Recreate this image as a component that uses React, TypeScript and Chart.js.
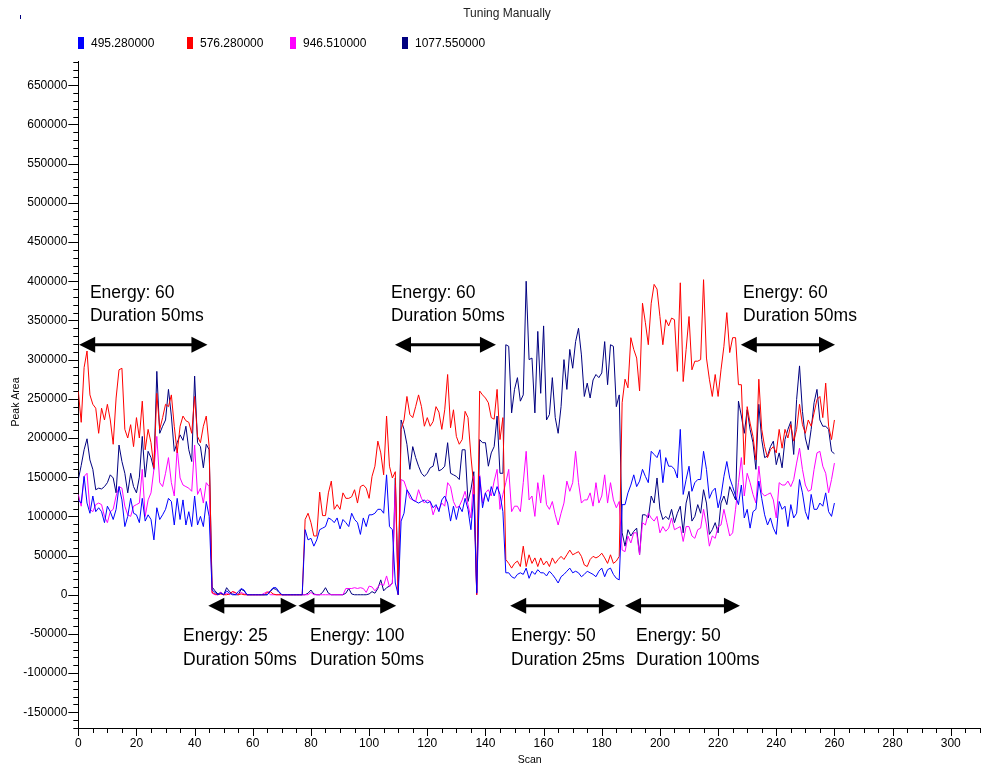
import { useEffect, useRef } from "react";
import { Chart, registerables } from "chart.js";

Chart.register(...registerables);

const TITLE = "Tuning Manually";
const X_TITLE = "Scan";
const Y_TITLE = "Peak Area";
const SERIES_LABELS = ["495.280000", "576.280000", "946.510000", "1077.550000"];
const SERIES_COLORS = ["#0000FF", "#FF0000", "#FF00FF", "#000080"];

const X_TICKS = [0, 20, 40, 60, 80, 100, 120, 140, 160, 180, 200, 220, 240, 260, 280, 300];
const Y_TICKS = [
  -150000, -100000, -50000, 0, 50000, 100000, 150000, 200000, 250000, 300000,
  350000, 400000, 450000, 500000, 550000, 600000, 650000,
];

// Peak area in thousands, one value per scan (scan 0 .. 260)
const peak495 = [
  121,117,151,117,104,126,106,111,106,92,113,106,96,109,138,121,87,100,123,104,102,92,123,94,102,96,70,111,96,102,109,123,119,89,123,96,121,89,106,87,126,89,100,87,119,100,
  6,3,0,2,0,5,2,0,0,4,8,6,0,0,0,0,0,0,0,0,5,9,9,4,0,0,0,0,0,0,0,0,
  83,70,72,62,70,83,85,87,98,96,92,98,84,96,92,87,104,96,92,77,98,87,102,102,104,109,109,104,153,87,83,15,
  0,
  94,104,134,128,121,119,117,119,121,117,119,111,115,106,121,126,117,94,113,96,113,106,123,109,83,128,
  2,
  151,111,130,119,138,126,138,128,106,
  28,28,23,21,26,28,26,34,21,30,26,32,28,28,24,30,26,21,15,23,26,30,34,28,30,28,23,26,30,28,26,23,30,34,23,32,34,26,21,19,
  115,115,130,140,153,138,145,160,151,143,183,179,175,185,143,175,164,164,160,149,211,128,147,164,132,143,147,147,183,160,123,132,136,111,126,151,170,149,138,126,115,140,
  98,109,85,106,109,145,123,102,89,98,85,77,119,109,113,87,115,98,104,147,130,106,96,128,109,109,117,113,130,106,100,117,
];

const peak576 = [
  260,220,290,311,255,243,238,206,238,223,243,223,192,251,287,289,211,200,217,189,226,200,247,185,211,194,162,257,211,226,243,240,255,215,181,215,228,222,220,206,253,202,194,215,228,189,
  3,1,0,1,0,0,1,4,3,0,1,0,0,0,0,0,0,0,0,3,4,1,0,0,0,0,0,0,0,0,0,0,
  96,104,92,75,75,131,101,101,130,145,109,115,109,130,123,123,125,134,117,138,140,136,123,151,164,196,181,153,228,164,149,157,
  0,
  211,223,253,230,226,240,255,240,215,226,215,221,240,233,211,236,281,213,236,202,192,198,234,226,177,138,
  0,
  260,255,251,245,226,224,262,198,226,
  45,40,34,40,43,36,62,36,51,40,47,36,47,38,43,36,47,40,45,49,45,51,57,51,53,55,49,38,36,45,49,47,49,53,47,40,51,40,43,49,
  245,275,264,328,313,302,260,372,347,319,372,396,390,355,319,351,343,353,351,285,398,272,313,355,287,298,298,300,402,302,275,253,281,253,287,317,360,309,328,328,268,268,
  166,240,219,202,172,275,211,189,175,185,189,181,211,187,211,200,217,196,211,243,217,206,223,215,232,249,253,226,270,215,198,223,
];

const peak946 = [
  128,113,151,155,109,106,115,117,115,100,92,106,109,126,138,136,113,102,100,113,115,117,160,100,121,130,160,202,143,138,155,175,143,126,187,149,140,138,136,132,191,128,136,117,143,138,
  2,0,0,3,0,2,0,4,2,0,3,1,0,0,0,0,0,0,2,4,0,0,0,0,0,0,0,0,0,0,0,0,
  0,0,3,0,0,0,0,0,0,0,0,0,0,0,8,8,8,9,8,9,8,3,11,10,5,10,14,12,24,10,15,140,
  0,
  147,145,134,123,121,119,134,123,117,121,119,102,113,109,117,113,143,138,119,111,113,121,132,115,98,151,
  0,
  153,117,130,134,126,145,160,109,128,
  143,160,106,113,113,106,143,183,121,126,100,143,117,153,115,109,119,102,89,104,117,145,132,143,183,143,117,121,121,130,113,143,117,126,153,117,143,121,111,119,
  57,55,75,66,79,79,51,92,89,104,98,94,100,79,87,81,85,98,83,85,87,68,87,87,75,72,83,85,109,89,62,75,72,87,89,109,92,75,79,109,143,175,
  126,155,143,128,117,164,130,126,128,130,121,98,143,140,140,145,138,147,168,187,160,140,132,134,160,181,183,164,155,130,147,168,
];

const peak1077 = [
  147,165,185,199,172,160,134,136,135,138,143,153,149,130,191,170,155,130,155,138,130,150,202,150,183,175,160,285,206,215,223,262,228,183,194,204,197,215,185,170,279,194,189,162,192,185,
  10,5,1,3,0,9,4,1,0,0,7,5,0,0,0,0,0,0,0,0,4,8,7,3,0,0,0,0,0,0,0,0,
  0,2,6,1,0,0,3,9,2,0,0,0,0,0,2,8,1,0,0,0,0,0,1,4,2,8,19,5,9,11,15,149,
  6,
  223,211,192,160,189,175,164,155,151,155,162,164,181,158,160,164,194,155,153,151,147,185,185,119,134,157,
  3,
  198,194,194,164,181,189,228,155,155,
  319,317,232,262,277,247,255,400,300,302,232,336,257,343,223,230,277,226,206,240,300,262,313,289,323,340,306,253,270,251,274,281,277,283,323,268,319,317,240,255,
  79,62,83,75,81,85,51,102,102,98,126,117,149,109,96,100,96,109,92,104,113,79,117,132,94,100,115,104,134,117,77,83,92,79,117,126,115,138,130,121,247,228,
  206,236,211,194,160,243,198,175,177,189,196,166,181,162,198,211,221,179,249,292,234,200,185,211,245,262,223,215,215,211,183,180,
];

const SERIES_VALUES = [peak495, peak576, peak946, peak1077];
const scans = peak495.map((_, i) => i);

// Annotations (scan / peak area units)
const annoStart = [0.3, 44.7, 75.7, 108.9, 148.5, 188, 227.8];
const annoEnd = [44.4, 75.1, 109.3, 143.6, 184.5, 227.5, 260.2];
const annoArrowY = [319000, -14000, -14000, 319000, -14000, -14000, 319000];
const annoTextX = [4, 36, 79.7, 107.5, 148.8, 191.8, 228.6];
const annoLine1 = ["Energy: 60", "Energy: 25", "Energy: 100", "Energy: 60", "Energy: 50", "Energy: 50", "Energy: 60"];
const annoLine2 = ["Duration 50ms", "Duration 50ms", "Duration 50ms", "Duration 50ms", "Duration 25ms", "Duration 100ms", "Duration 50ms"];
const upperTextY = [385000, 355000];
const lowerTextY = [-53000, -84000];

const FONT = "'Liberation Sans', Arial, sans-serif";

const decorPlugin = {
  id: "decor",
  afterDatasetsDraw(chart: any) {
    const ctx = chart.ctx;
    const xs = chart.scales.x;
    const ys = chart.scales.y;
    ctx.save();
    ctx.fillStyle = "#000";
    ctx.strokeStyle = "#000";
    ctx.lineWidth = 3;
    for (let i = 0; i < annoStart.length; i++) {
      const x1 = xs.getPixelForValue(annoStart[i]);
      const x2 = xs.getPixelForValue(annoEnd[i]);
      const y = ys.getPixelForValue(annoArrowY[i]);
      const hl = 16;
      const hh = 8;
      ctx.beginPath();
      ctx.moveTo(x1 + hl - 2, y);
      ctx.lineTo(x2 - hl + 2, y);
      ctx.stroke();
      ctx.beginPath();
      ctx.moveTo(x1, y);
      ctx.lineTo(x1 + hl, y - hh);
      ctx.lineTo(x1 + hl, y + hh);
      ctx.closePath();
      ctx.fill();
      ctx.beginPath();
      ctx.moveTo(x2, y);
      ctx.lineTo(x2 - hl, y - hh);
      ctx.lineTo(x2 - hl, y + hh);
      ctx.closePath();
      ctx.fill();
      const tys = annoArrowY[i] > 0 ? upperTextY : lowerTextY;
      ctx.font = `17.5px ${FONT}`;
      ctx.textAlign = "left";
      ctx.textBaseline = "middle";
      const tx = xs.getPixelForValue(annoTextX[i]);
      ctx.fillText(annoLine1[i], tx, ys.getPixelForValue(tys[0]));
      ctx.fillText(annoLine2[i], tx, ys.getPixelForValue(tys[1]));
    }
    ctx.restore();
  },
  afterDraw(chart: any) {
    const ctx = chart.ctx;
    const xs = chart.scales.x;
    const ys = chart.scales.y;
    ctx.save();
    ctx.strokeStyle = "#000";
    ctx.lineWidth = 1;
    ctx.beginPath();
    for (let v = 0; v <= xs.max; v += 5) {
      const px = Math.round(xs.getPixelForValue(v)) + 0.5;
      const len = v % 20 === 0 ? 8 : 5;
      ctx.moveTo(px, xs.top);
      ctx.lineTo(px, xs.top + len);
    }
    for (let v = -170000; v <= ys.max; v += 10000) {
      const py = Math.round(ys.getPixelForValue(v)) + 0.5;
      const len = v % 50000 === 0 ? 10 : 5;
      ctx.moveTo(ys.right - len, py);
      ctx.lineTo(ys.right, py);
    }
    ctx.stroke();

    // title
    ctx.fillStyle = "#222";
    ctx.font = `12px ${FONT}`;
    ctx.textAlign = "center";
    ctx.textBaseline = "middle";
    ctx.fillText(TITLE, 507, 14);

    // y axis title
    ctx.save();
    ctx.fillStyle = "#000";
    ctx.font = `10.5px ${FONT}`;
    ctx.translate(16, 402);
    ctx.rotate(-Math.PI / 2);
    ctx.fillText(Y_TITLE, 0, 0);
    ctx.restore();

    // small mark top-left
    ctx.fillStyle = "#000080";
    ctx.fillRect(20, 15, 1, 4);

    // legend
    const legendX = [78, 187, 290, 402];
    ctx.font = `12px ${FONT}`;
    ctx.textAlign = "left";
    ctx.textBaseline = "middle";
    for (let i = 0; i < SERIES_LABELS.length; i++) {
      ctx.fillStyle = SERIES_COLORS[i];
      ctx.fillRect(legendX[i], 37, 6, 12);
      ctx.fillStyle = "#000";
      ctx.fillText(SERIES_LABELS[i], legendX[i] + 13, 43.5);
    }
    ctx.restore();
  },
};

export default function App() {
  const ref = useRef<HTMLCanvasElement | null>(null);
  useEffect(() => {
    if (!ref.current) return;
    Chart.defaults.font.family = FONT;
    Chart.defaults.font.size = 12;
    Chart.defaults.color = "#000";
    const chart = new Chart(ref.current, {
      type: "line",
      data: {
        datasets: SERIES_VALUES.map((vals, i) => ({
          label: SERIES_LABELS[i],
          data: vals.map((v, j) => ({ x: scans[j], y: v * 1000 })),
          borderColor: SERIES_COLORS[i],
          backgroundColor: SERIES_COLORS[i],
          borderWidth: 1,
          pointRadius: 0,
          tension: 0,
          fill: false,
        })),
      },
      options: {
        animation: false,
        responsive: false,
        devicePixelRatio: 1,
        layout: { padding: { top: 61, left: 0, right: 0, bottom: 0 } },
        plugins: {
          legend: { display: false },
          title: { display: false },
          tooltip: { enabled: false },
        },
        scales: {
          x: {
            type: "linear",
            min: 0,
            max: 310.4,
            grid: { display: false },
            border: { display: true, color: "#000", width: 1 },
            afterBuildTicks: (s: any) => {
              s.ticks = X_TICKS.map((v) => ({ value: v }));
            },
            ticks: {
              autoSkip: false,
              maxRotation: 0,
              padding: 0,
              color: "#000",
              font: { size: 12 },
              callback: (v: any) => String(v),
            },
            title: {
              display: true,
              text: X_TITLE,
              color: "#000",
              font: { size: 10.5, lineHeight: 0.8 },
              padding: 0,
            },
            afterFit: (s: any) => {
              s.height = 36;
            },
          },
          y: {
            type: "linear",
            min: -170000,
            max: 681000,
            grid: { display: false },
            border: { display: true, color: "#000", width: 1 },
            afterBuildTicks: (s: any) => {
              s.ticks = Y_TICKS.map((v) => ({ value: v }));
            },
            ticks: {
              autoSkip: false,
              padding: 3,
              color: "#000",
              font: { size: 12 },
              callback: (v: any) => String(v),
            },
            title: { display: false },
            afterFit: (s: any) => {
              s.width = 78.3;
            },
          },
        },
      },
      plugins: [decorPlugin],
    });
    return () => chart.destroy();
  }, []);
  return (
    <div style={{ position: "absolute", left: 0, top: 0, width: 981, height: 764, background: "#fff" }}>
      <canvas ref={ref} width={981} height={764} style={{ display: "block" }} />
    </div>
  );
}
